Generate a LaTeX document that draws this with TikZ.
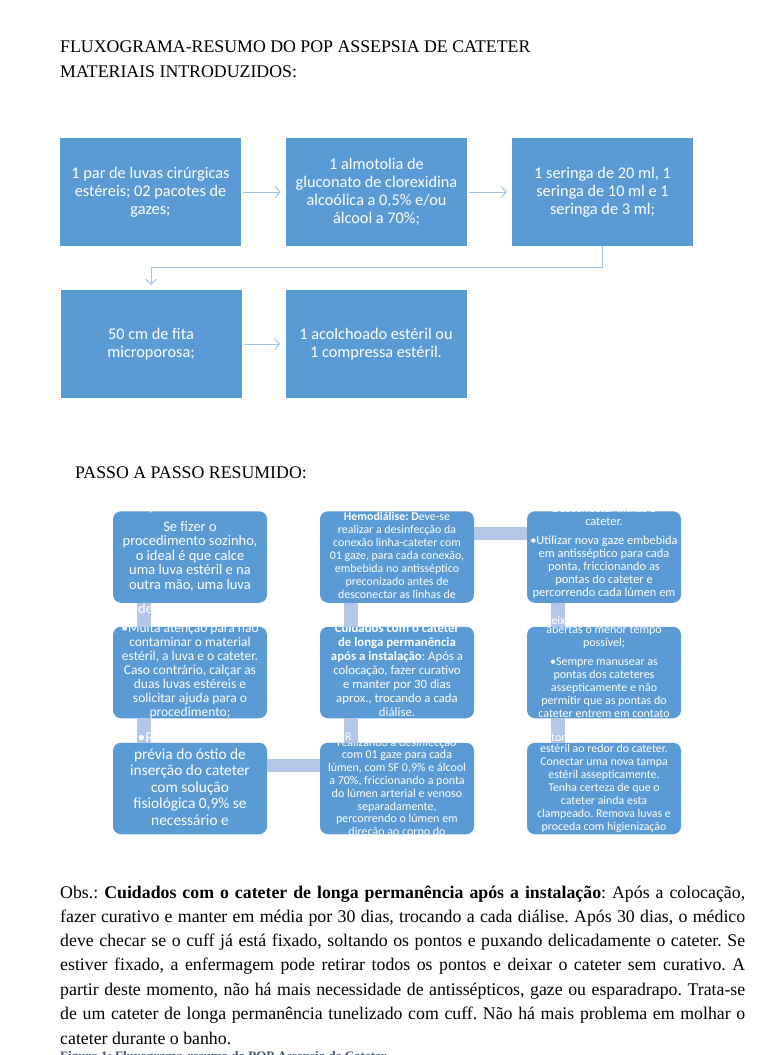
\documentclass[tikz,border=0pt]{standalone}
\usepackage{fontspec}
\setmainfont{Liberation Serif}
\newfontfamily\calfont{Carlito}
\usetikzlibrary{arrows.meta}
\definecolor{boxblue}{RGB}{91,155,213}
\definecolor{barblue}{RGB}{180,199,231}
\definecolor{lineblue}{RGB}{157,195,230}
\definecolor{capcol}{RGB}{68,84,106}
\frenchspacing
\newcommand\fsz[2]{\fontsize{#1}{#2}\selectfont}
% #1 box, #2 tag, #3 x, #4 first baseline, #5 spacing, #6 font, #7 lines
\newcommand\boxlines[7]{%
  \begin{scope}
    \clip[rounded corners=8pt] (#1.south west) rectangle (#1.north east);
    \foreach \l [count=\i from 0] in {#7}{
      \node[tl, font=#6] (#1#2\i) at (#3, #4+\i*#5) {\l};
    }
  \end{scope}}
% fragment of text seen on a bar: #1 name, #2 clip corner a, #3 corner b, #4 pos, #5 font, #6 text
\newcommand\barfrag[6]{%
  \begin{scope}
    \clip #2 rectangle #3;
    \node[anchor=base west, inner sep=0pt, text=white, font=#5] (#1) at #4 {#6};
  \end{scope}}

\begin{document}
\begin{tikzpicture}[x=1pt,y=-1pt,
  mat/.style={fill=boxblue, minimum width=181pt, minimum height=108pt, inner sep=0pt,
    align=center, text=white, font=\calfont\fsz{16.3}{18}},
  stepbox/.style={fill=boxblue, rounded corners=8pt, minimum width=154pt, minimum height=91.5pt, inner sep=0pt},
  tl/.style={anchor=base, text=white, inner sep=0pt},
  conn/.style={draw=lineblue, line width=1pt, -{Straight Barb[length=5pt,width=11pt]}},
  hbar/.style={draw=barblue, line width=13pt},
  vbar/.style={draw=barblue, line width=14pt},
  body/.style={anchor=base west, inner sep=0pt, font=\frenchspacing\fsz{17.8}{20}},
]
\useasboundingbox (0,0) rectangle (760,1055);
\clip (0,0) rectangle (760,1055);
\fill[white] (0,0) rectangle (760,1055);

% ---------- headings ----------
\node[body] (t1) at (60,52) {FLUXOGRAMA-RESUMO DO POP ASSEPSIA DE CATETER};
\node[body] (t2) at (60,77) {MATERIAIS INTRODUZIDOS:};
\node[body] (t3) at (75,478) {PASSO A PASSO RESUMIDO:};

% ---------- materials ----------
\node[mat] (m1) at (150.5,192) {1 par de luvas cirúrgicas\\estéreis; 02 pacotes de\\gazes;};
\node[mat] (m2) at (376.5,192) {1 almotolia de\\gluconato de clorexidina\\alcoólica a 0,5\% e/ou\\álcool a 70\%;};
\node[mat] (m3) at (602.5,192) {1 seringa de 20 ml, 1\\seringa de 10 ml e 1\\seringa de 3 ml;};
\node[mat] (m4) at (151,344) {50 cm de fita\\microporosa;};
\node[mat] (m5) at (376,344) {1 acolchoado estéril ou\\1 compressa estéril.};

\draw[conn, shorten <=2pt, shorten >=5pt] (m1) -- (m2);
\draw[conn, shorten <=2pt, shorten >=5pt] (m2) -- (m3);
\draw[conn, shorten <=2pt, shorten >=5pt] (m4) -- (m5);
\coordinate (elbow) at (0,267);
\draw[conn, shorten >=5pt] (m3.south) -- (m3.south |- elbow) -| (m4.north);

% ---------- step boxes ----------
\node[stepbox] (b11) at (190,557) {};
\node[stepbox] (b12) at (397,557) {};
\node[stepbox] (b13) at (604,557) {};
\node[stepbox] (b21) at (190,672.5) {};
\node[stepbox] (b22) at (397,672.5) {};
\node[stepbox] (b23) at (604,672.5) {};
\node[stepbox] (b31) at (190,788.5) {};
\node[stepbox] (b32) at (397,788.5) {};
\node[stepbox] (b33) at (604,788.5) {};

% bars between the boxes
\draw[hbar] ([yshift=23.5pt]b12.east) -- ([yshift=23.5pt]b13.west);
\draw[hbar] ([yshift=23pt]b31.east) -- ([yshift=23pt]b32.west);
\foreach \a/\b in {b11/b21,b21/b31,b12/b22,b22/b32,b13/b23,b23/b33}{
  \draw[vbar] ([xshift=31.5pt]\a.south west) -- ([xshift=31.5pt]\b.north west);
}

% fragments of text visible on the bars
\barfrag{f1}{([xshift=24.5pt]b11.south west)}{([xshift=38.5pt]b21.north west)}{(138,613)}{\calfont\fsz{14.5}{15}}{de}
\barfrag{f2}{([xshift=24.5pt]b21.south west)}{([xshift=38.5pt]b31.north west)}{(137.5,742)}{\calfont\fsz{15.4}{16}}{•R}
\barfrag{f3}{([xshift=24.5pt]b22.south west)}{([xshift=38.5pt]b32.north west)}{(345,740)}{\calfont\fsz{12}{13}}{R}
\barfrag{f4}{([xshift=24.5pt]b13.south west)}{([xshift=38.5pt]b23.north west)}{(545,624)}{\calfont\fsz{12}{13}}{deixa}
\barfrag{f5}{([xshift=24.5pt]b23.south west)}{([xshift=38.5pt]b33.north west)}{(551,741)}{\calfont\fsz{12}{13}}{tor}

% ---------- step texts ----------
\boxlines{b11}{a}{190}{510}{14.6}{\calfont\fsz{14.5}{15}}{{Calçar luvas estéreis.}}
\boxlines{b11}{b}{190}{531}{14.6}{\calfont\fsz{14.5}{15}}{{Se fizer o},{procedimento sozinho,},{o ideal é que calce},{uma luva estéril e na},{outra mão, uma luva}}
\boxlines{b12}{a}{397}{520.7}{13}{\calfont\fsz{11.9}{13}}{{\textbf{Hemodiálise: D}eve-se},{realizar a desinfecção da},{conexão linha-cateter com},{01 gaze, para cada conexão,},{embebida no antisséptico},{preconizado antes de},{desconectar as linhas de}}
\boxlines{b13}{a}{604}{512}{13.2}{\calfont\fsz{12.4}{13}}{{Desconectar linhas e},{cateter.}}
\boxlines{b13}{b}{604}{544}{13.2}{\calfont\fsz{12.4}{13}}{{•Utilizar nova gaze embebida},{em antisséptico para cada},{ponta, friccionando as},{pontas do cateter e},{percorrendo cada lúmen em}}
\boxlines{b21}{a}{190}{632}{14}{\calfont\fsz{13.5}{14}}{{•Muita atenção para não},{contaminar o material},{estéril, a luva e o cateter.},{Caso contrário, calçar as},{duas luvas estéreis e},{solicitar ajuda para o},{procedimento;}}
\boxlines{b22}{a}{397}{632}{14.1}{\calfont\fsz{12.8}{14}}{{\textbf{Cuidados com o cateter}},{\textbf{de longa permanência}},{\textbf{após a instalação}: Após a},{colocação, fazer curativo},{e manter por 30 dias},{aprox., trocando a cada},{diálise.}}
\boxlines{b23}{a}{604}{633}{13}{\calfont\fsz{12}{13}}{{abertas o menor tempo},{possível;}}
\boxlines{b23}{b}{604}{665}{13}{\calfont\fsz{12}{13}}{{•Sempre manusear as},{pontas dos cateteres},{assepticamente e não},{permitir que as pontas do},{cateter entrem em contato}}
\boxlines{b31}{a}{190}{759}{16.6}{\calfont\fsz{15.4}{16}}{{prévia do óstio de},{inserção do cateter},{com solução},{fisiológica 0,9\% se},{necessário e}}
\boxlines{b32}{a}{397}{746}{12.8}{\calfont\fsz{12}{13}}{{realizando a desinfecção},{com 01 gaze para cada},{lúmen, com SF 0,9\% e álcool},{a 70\%, friccionando a ponta},{do lúmen arterial e venoso},{separadamente,},{percorrendo o lúmen em},{direção ao corpo do}}
\boxlines{b33}{a}{604}{752}{13}{\calfont\fsz{11.9}{13}}{{estéril ao redor do cateter.},{Conectar uma nova tampa},{estéril assepticamente.},{Tenha certeza de que o},{cateter ainda esta},{clampeado. Remova luvas e},{proceda com higienização}}

% ---------- note ----------
\node[body] (o1) at (60,898) {\makebox[685pt][s]{Obs.: \textbf{Cuidados com o cateter de longa permanência após a instalação}: Após a colocação,}};
\node[body] (o2) at (60,922.3) {\makebox[685pt][s]{fazer curativo e manter em média por 30 dias, trocando a cada diálise. Após 30 dias, o médico}};
\node[body] (o3) at (60,946.6) {\makebox[685pt][s]{deve checar se o cuff já está fixado, soltando os pontos e puxando delicadamente o cateter. Se}};
\node[body] (o4) at (60,970.9) {\makebox[685pt][s]{estiver fixado, a enfermagem pode retirar todos os pontos e deixar o cateter sem curativo. A}};
\node[body] (o5) at (60,995.2) {\makebox[685pt][s]{partir deste momento, não há mais necessidade de antissépticos, gaze ou esparadrapo. Trata-se}};
\node[body] (o6) at (60,1019.5) {\makebox[685pt][s]{de um cateter de longa permanência tunelizado com cuff. Não há mais problema em molhar o}};
\node[body] (o7) at (60,1044) {cateter durante o banho.};
\node[anchor=base west, inner sep=0pt, text=capcol, font=\bfseries\fsz{13}{15}] (fig) at (60,1060) {Figura 1: Fluxograma-resumo do POP Assepsia de Cateter};
\end{tikzpicture}
\end{document}
